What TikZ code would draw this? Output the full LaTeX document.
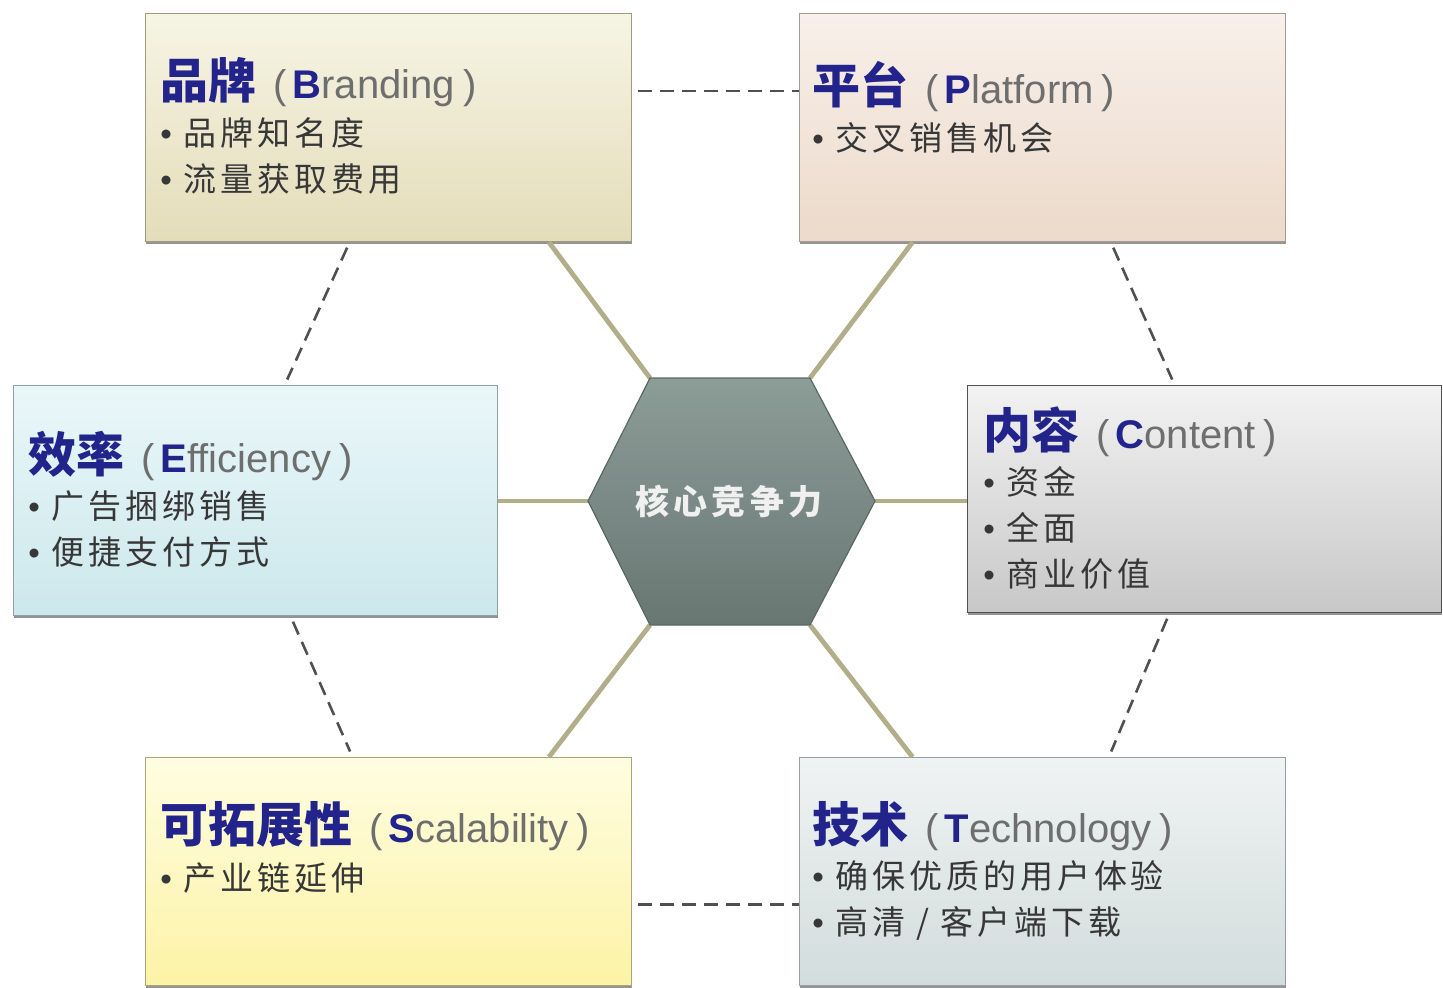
\documentclass[tikz,border=0pt]{standalone}
\usepackage{fontspec}
\setmainfont{Liberation Sans}
\newfontfamily\cjk{Noto Sans CJK SC}
\newfontfamily\cjkwide{Noto Sans CJK SC}[LetterSpace=12]
\usetikzlibrary{calc,shadows}

\definecolor{navyT}{RGB}{35,35,140}
\definecolor{parenC}{RGB}{110,110,110}
\definecolor{itemC}{RGB}{55,55,55}
\definecolor{spokeC}{RGB}{178,174,138}
\definecolor{dashC}{RGB}{80,80,80}
\definecolor{hexTop}{RGB}{140,156,151}
\definecolor{hexBot}{RGB}{105,119,115}
\definecolor{hexLine}{RGB}{90,104,100}
\definecolor{brandtop}{RGB}{246,244,228}
\definecolor{brandbot}{RGB}{228,221,186}
\definecolor{brandline}{RGB}{160,155,125}
\definecolor{plattop}{RGB}{248,240,234}
\definecolor{platbot}{RGB}{236,218,202}
\definecolor{platline}{RGB}{165,155,145}
\definecolor{efftop}{RGB}{234,247,249}
\definecolor{effbot}{RGB}{204,232,236}
\definecolor{effline}{RGB}{140,160,165}
\definecolor{conttop}{RGB}{242,242,242}
\definecolor{contbot}{RGB}{200,200,200}
\definecolor{contline}{RGB}{80,80,80}
\definecolor{scaltop}{RGB}{255,253,225}
\definecolor{scalbot}{RGB}{252,243,165}
\definecolor{scalline}{RGB}{170,165,120}
\definecolor{techtop}{RGB}{240,243,243}
\definecolor{techbot}{RGB}{210,220,220}
\definecolor{techline}{RGB}{150,160,160}

\newcommand\headline[3]{{\cjk\fontsize{24}{26}\selectfont\bfseries\color{navyT}#1}%
  {\color{parenC}\hspace{8.5pt}(\hspace{3pt}}%
  {\bfseries\color{navyT}#2}{\color{parenC}#3\hspace{4pt})}}
\newcommand\dotline[1]{{\rmfamily •}\ #1}

\tikzset{
  pane/.style={anchor=north west, inner sep=0, minimum width=243pt, minimum height=114pt,
    top color=#1top, bottom color=#1bot, draw=#1line, line width=0.6pt,
    drop shadow={shadow xshift=0.3pt, shadow yshift=-1.2pt, opacity=.7, fill=black!60}},
  headnode/.style={anchor=west, inner sep=0, font=\fontsize{20}{24}\selectfont},
  listnode/.style={anchor=west, inner sep=0, align=left, text=itemC,
    font=\cjkwide\fontsize{16.5}{23}\selectfont},
  hexa/.style={top color=hexTop, bottom color=hexBot, draw=hexLine, line width=0.6pt},
  coretext/.style={inner sep=0, text=white!94!black,
    font=\cjkwide\bfseries\fontsize{17}{17}\selectfont},
  spoke/.style={draw=spokeC, line width=2.4pt},
  link/.style={draw=dashC, line width=1.3pt, dash pattern=on 7pt off 4pt,
    shorten <=3pt, shorten >=3pt}
}

\begin{document}
\begin{tikzpicture}[x=0.5pt,y=-0.5pt]
\useasboundingbox (0,0) rectangle (1443,987);

% the six panes
\node[pane=brand] (brand) at (145,13) {};
\node[pane=plat] (plat) at (799,13) {};
\node[pane=eff, minimum width=242pt, minimum height=115pt] (eff) at (13,385) {};
\node[pane=cont, minimum width=237pt, minimum height=113.5pt] (cont) at (967,385) {};
\node[pane=scal] (scal) at (145,757) {};
\node[pane=tech] (tech) at (799,757) {};

% titles
\node[headnode] (brandH) at ($(brand.north west)+(15,69)$) {\headline{品牌}{B}{randing}};
\node[headnode] (platH) at ($(plat.north west)+(13,74)$) {\headline{平台}{P}{latform}};
\node[headnode] (effH) at ($(eff.north west)+(15,71)$) {\headline{效率}{E}{fficiency}};
\node[headnode] (contH) at ($(cont.north west)+(16,47)$) {\headline{内容}{C}{ontent}};
\node[headnode] (scalH) at ($(scal.north west)+(15,69)$) {\headline{可拓展性}{S}{calability}};
\node[headnode] (techH) at ($(tech.north west)+(13,69)$) {\headline{技术}{T}{echnology}};

% bullet lists
\node[listnode] (brandL) at ($(brand.north west)+(15,143)$) {\dotline{品牌知名度}\\\dotline{流量获取费用}};
\node[listnode] (platL) at ($(plat.north west)+(13,125)$) {\dotline{交叉销售机会}};
\node[listnode] (effL) at ($(eff.north west)+(15,144)$) {\dotline{广告捆绑销售}\\\dotline{便捷支付方式}};
\node[listnode] (contL) at ($(cont.north west)+(16,143)$) {\dotline{资金}\\\dotline{全面}\\\dotline{商业价值}};
\node[listnode] (scalL) at ($(scal.north west)+(15,121)$) {\dotline{产业链延伸}};
\node[listnode] (techL) at ($(tech.north west)+(13,143)$) {\dotline{确保优质的用户体验}\\\dotline{高清 / 客户端下载}};

% core hexagon
\coordinate (hexNW) at (650,378);
\coordinate (hexNE) at (810,378);
\coordinate (hexE) at (875,501);
\coordinate (hexSE) at (810,625);
\coordinate (hexSW) at (650,625);
\coordinate (hexW) at (588,501);

% spokes
\draw[spoke] (hexNW) -- ($(brand.south west)!0.829!(brand.south east)$);
\draw[spoke] (hexNE) -- ($(plat.south west)!0.233!(plat.south east)$);
\draw[spoke] (hexW) -- (hexW -| eff.east);
\draw[spoke] (hexE) -- (hexE -| cont.west);
\draw[spoke] (hexSW) -- ($(scal.north west)!0.829!(scal.north east)$);
\draw[spoke] (hexSE) -- ($(tech.north west)!0.233!(tech.north east)$);

\shade[hexa] (hexNW) -- (hexNE) -- (hexE) -- (hexSE) -- (hexSW) -- (hexW) -- cycle;
\node[coretext] (core) at (729,501) {核心竞争力};

% outer ring
\draw[link, shorten >=0pt] ($(brand.north east)!0.34!(brand.south east)$) -- ($(plat.north west)!0.34!(plat.south west)$);
\draw[link] ($(brand.south west)!0.42!(brand.south east)$) -- ($(eff.north west)!0.56!(eff.north east)$);
\draw[link] ($(plat.south west)!0.64!(plat.south east)$) -- ($(cont.north west)!0.437!(cont.north east)$);
\draw[link] ($(eff.south west)!0.572!(eff.south east)$) -- ($(scal.north west)!0.426!(scal.north east)$);
\draw[link] ($(cont.south west)!0.426!(cont.south east)$) -- ($(tech.north west)!0.636!(tech.north east)$);
\draw[link, shorten >=0pt] ($(scal.north east)!0.643!(scal.south east)$) -- ($(tech.north west)!0.643!(tech.south west)$);
\end{tikzpicture}
\end{document}
